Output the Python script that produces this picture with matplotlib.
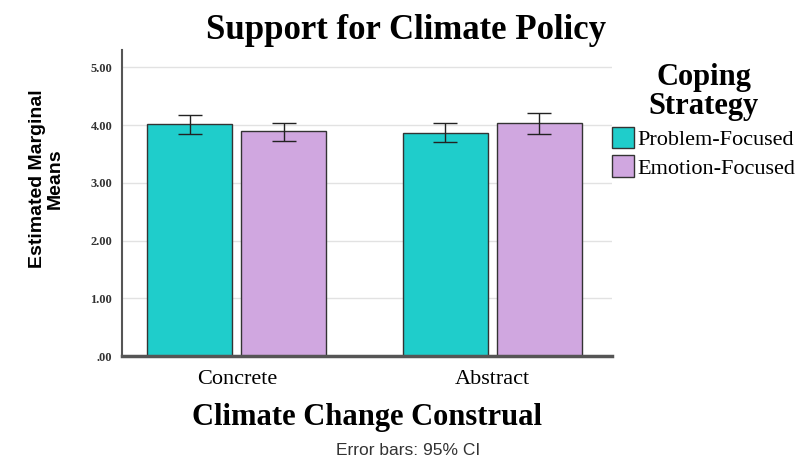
#- Imports:

import numpy as np
import matplotlib.pyplot as plt
from matplotlib.patches import Patch


#- Data:

construal = ["Concrete", "Abstract"]
strategies = ["Problem-Focused", "Emotion-Focused"]
means = {"Problem-Focused": [4.01, 3.87],
         "Emotion-Focused": [3.89, 4.03]}
ci_low = {"Problem-Focused": [3.84, 3.71],
          "Emotion-Focused": [3.73, 3.84]}
ci_high = {"Problem-Focused": [4.17, 4.03],
           "Emotion-Focused": [4.04, 4.21]}
yticks = [0, 1, 2, 3, 4, 5]
ytick_labels = [".00", "1.00", "2.00", "3.00", "4.00", "5.00"]

colors = {"Problem-Focused": "#1fcdcb", "Emotion-Focused": "#d0a7e0"}
serif = "Liberation Serif"
sans = "Liberation Sans"


#- Plot:

fig = plt.figure(figsize=(8, 4.63), dpi=100)
ax = fig.add_axes([0.1525, 0.231, 0.6125, 0.661])

idx = np.arange(len(construal))
width = 0.333
offsets = [-0.184, 0.184]

for s, off in zip(strategies, offsets):
    m = np.array(means[s])
    lo = m - np.array(ci_low[s])
    hi = np.array(ci_high[s]) - m
    ax.bar(idx + off, m, width, color=colors[s], edgecolor="#333333",
           linewidth=1.0, zorder=2)
    ax.errorbar(idx + off, m, yerr=[lo, hi], fmt="none", ecolor="#222222",
                elinewidth=1.0, capsize=8.5, capthick=1.0, zorder=3)

ax.set_xlim(-0.45, 1.47)
ax.set_ylim(0, 5.3)
ax.set_yticks(yticks)
ax.set_yticklabels(ytick_labels, fontfamily=serif, fontsize=9,
                   fontweight="bold", color="#333333")
ax.set_xticks(idx)
ax.set_xticklabels(construal, fontfamily=serif, fontsize=16)
ax.tick_params(axis="y", length=0, pad=7)
ax.tick_params(axis="x", length=0, pad=10)
ax.yaxis.grid(True, color="#e2e2e2", linewidth=1.0, zorder=0)
ax.set_axisbelow(True)

for side in ["top", "right"]:
    ax.spines[side].set_visible(False)
ax.spines["left"].set_color("#555555")
ax.spines["left"].set_linewidth(1.5)
ax.spines["bottom"].set_color("#555555")
ax.spines["bottom"].set_linewidth(2.5)

ax.set_ylabel("Estimated Marginal\nMeans", fontfamily=sans, fontsize=14,
              fontweight="bold", linespacing=1.1)
ax.yaxis.set_label_coords(-0.118, 0.58)
ax.set_xlabel("Climate Change Construal", fontfamily=serif, fontsize=22,
              fontweight="bold", labelpad=10)
fig.text(0.5075, 0.935, "Support for Climate Policy", ha="center",
         va="center", fontfamily=serif, fontsize=25, fontweight="bold")
fig.text(0.51, 0.027, "Error bars: 95% CI", ha="center", va="center",
         fontfamily=sans, fontsize=12.5, color="#333333")

handles = [Patch(facecolor=colors[s], edgecolor="#333333") for s in strategies]
leg = fig.legend(handles, strategies, loc="upper left",
                 bbox_to_anchor=(0.765, 0.864), frameon=False,
                 prop={"family": serif, "size": 16},
                 title="Coping\nStrategy", handlelength=1.0,
                 handleheight=1.1, handletextpad=0.15, labelspacing=0.25,
                 borderaxespad=0, borderpad=0)
title = leg.get_title()
title.set_fontfamily(serif)
title.set_fontsize(22)
title.set_fontweight("bold")
title.set_linespacing(1.0)
title.set_multialignment("center")
leg._legend_box.align = "center"

plt.savefig("out.png", dpi=100)
